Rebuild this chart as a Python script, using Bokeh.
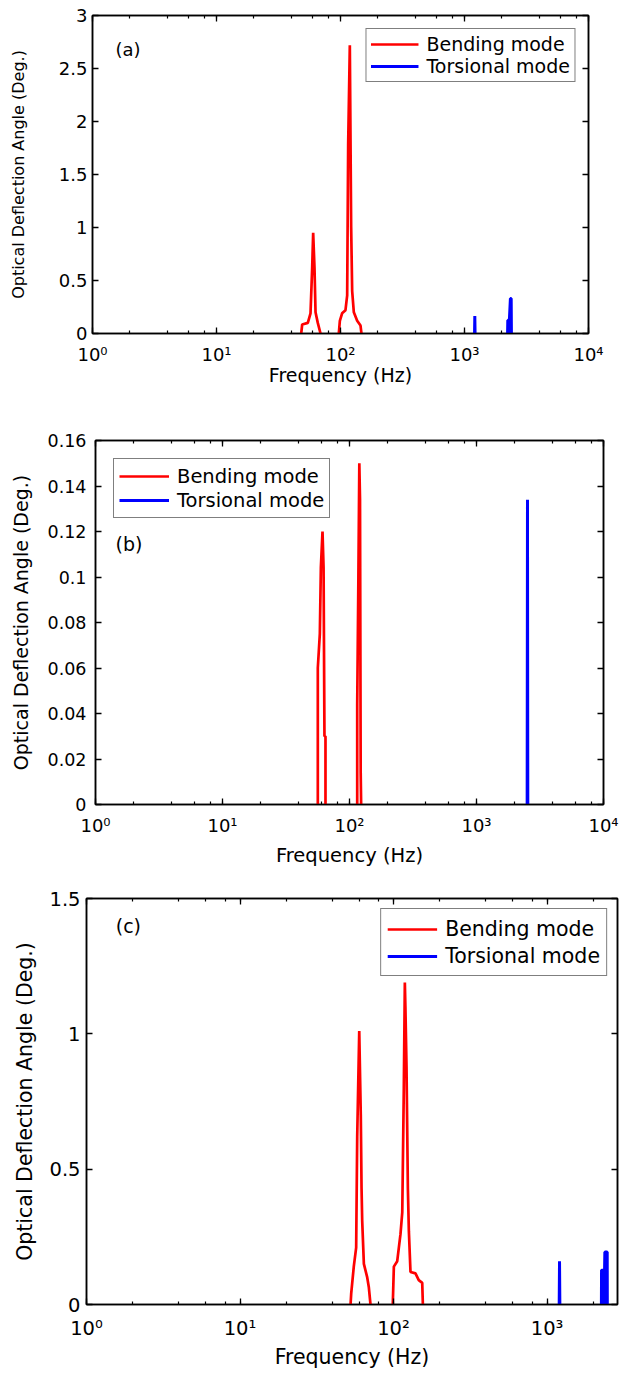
import math
from bokeh.plotting import figure
from bokeh.models import (LogAxis, LinearAxis, LogTicker, FixedTicker, CustomJSTickFormatter,
                          Legend, LegendItem, Label, Range1d)
from bokeh.embed import file_html
from bokeh.resources import INLINE

nan = float("nan")

# ---------------- data ----------------
series_names = ["Bending mode", "Torsional mode"]
panel_tags = ["(a)", "(b)", "(c)"]
x_label = "Frequency (Hz)"
y_label = "Optical Deflection Angle (Deg.)"

# Panel (a)
a_bend_freq = [48.2, 49.1, 54.5, 57.3, 59.1, 60.2, 61.7, 62.9, 65.6, 69.0, nan,
               96.9, 98.8, 103.0, 109.7, 113.2, 115.3, 118.9, 121.9, 124.2, 128.1, 136.3, 145.0, 147.6]
a_bend_val = [0, 0.085, 0.10, 0.19, 0.62, 0.95, 0.62, 0.20, 0.10, 0, nan,
              0, 0.12, 0.19, 0.22, 0.36, 1.79, 2.72, 1.00, 0.40, 0.20, 0.12, 0.075, 0]
a_tors_freq = [1205, 1211, 1217, nan, 2225, 2234, 2300, 2345, 2380, 2390]
a_tors_val = [0, 0.165, 0, nan, 0, 0.125, 0.125, 0.33, 0.33, 0]
a_yticks = [0, 0.5, 1, 1.5, 2, 2.5, 3]

# Panel (b)
b_bend_freq = [56.3, 56.3, 58.4, 59.5, 61.3, 62.5, 63.5, 64.7, 64.7, nan,
               115.0, 115.0, 117.5, 119.5, 121.0, 122.5, 123.5]
b_bend_val = [0, 0.06, 0.075, 0.104, 0.12, 0.104, 0.03, 0.03, 0, nan,
              0, 0.044, 0.10, 0.15, 0.134, 0.014, 0]
b_tors_freq = [2505, 2520, 2535]
b_tors_val = [0, 0.134, 0]
b_yticks = [0, 0.02, 0.04, 0.06, 0.08, 0.1, 0.12, 0.14, 0.16]

# Panel (c)
c_bend_freq = [52.5, 53.0, 55.1, 57.1, 58.0, 59.8, 61.2, 61.9, 62.5, 64.1, 67.4, 69.0, 70.8, nan,
               98.9, 100.5, 105.7, 111.0, 114.0, 116.7, 118.5, 119.5, 121.5, 124.0, 125.9, 129.0,
               139.0, 146.0, 153.8, 155.3]
c_bend_val = [0, 0.04, 0.14, 0.21, 0.62, 1.01, 0.70, 0.43, 0.31, 0.15, 0.10, 0.065, 0, nan,
              0, 0.14, 0.16, 0.26, 0.34, 0.80, 1.19, 1.10, 0.88, 0.43, 0.27, 0.12,
              0.115, 0.09, 0.08, 0]
c_tors_freq = [1200, 1206, 1212, nan, 2260, 2265, 2370, 2380, 2466, 2470]
c_tors_val = [0, 0.16, 0, nan, 0, 0.127, 0.127, 0.194, 0.194, 0]
c_yticks = [0, 0.5, 1, 1.5]

FONT = "DejaVu Sans"
RED = "#ff0000"
BLUE = "#0000ff"

SUP_JS = """
const sup = {'0':'\u2070','1':'\u00b9','2':'\u00b2','3':'\u00b3','4':'\u2074',
             '5':'\u2075','6':'\u2076','7':'\u2077','8':'\u2078','9':'\u2079','-':'\u207b'};
const e = Math.round(Math.log10(tick));
return '10' + String(e).split('').map(c => sup[c]).join('');
"""
DEC_JS = "return String(parseFloat(tick.toFixed(6)));"


def segments(xs, ys):
    out, cx, cy = [], [], []
    for x, y in zip(xs, ys):
        if isinstance(x, float) and math.isnan(x):
            if cx:
                out.append((cx, cy))
            cx, cy = [], []
        else:
            cx.append(x)
            cy.append(y)
    if cx:
        out.append((cx, cy))
    return out


def make_panel(cfg):
    p = figure(width=cfg["w"], height=cfg["h"], x_axis_type="log",
               x_range=Range1d(1, cfg["xmax"]), y_range=Range1d(0, cfg["ymax"]),
               output_backend="svg", toolbar_location=None,
               min_border_left=cfg["bl"], min_border_right=cfg["br"],
               min_border_top=cfg["bt"], min_border_bottom=cfg["bb"],
               background_fill_color="white", border_fill_color="white")
    p.xgrid.visible = False
    p.ygrid.visible = False
    p.outline_line_color = "black"
    p.outline_line_width = 1.5

    # data
    for fx, fy in segments(cfg["tf"], cfg["tv"]):
        p.varea(x=fx, y1=[0] * len(fy), y2=fy, fill_color=BLUE)
    r_b = p.line(cfg["bf"], cfg["bv"], line_color=RED, line_width=2.7)
    r_t = p.line(cfg["tf"], cfg["tv"], line_color=BLUE, line_width=3)

    # bottom axis
    xa = p.xaxis[0]
    xa.ticker = LogTicker()
    xa.formatter = CustomJSTickFormatter(code=SUP_JS)
    # left axis
    ya = p.yaxis[0]
    ya.ticker = FixedTicker(ticks=cfg["yticks"])
    ya.formatter = CustomJSTickFormatter(code=DEC_JS)

    for ax in (xa, ya):
        ax.axis_line_color = "black"
        ax.axis_line_width = 1.5
        ax.major_tick_in = 6
        ax.major_tick_out = 0
        ax.major_tick_line_width = 1.3
        ax.minor_tick_in = 3
        ax.minor_tick_out = 0
        ax.minor_tick_line_width = 1.2
        ax.major_label_text_font = FONT
        ax.major_label_text_color = "black"
        ax.axis_label_text_font = FONT
        ax.axis_label_text_font_style = "normal"
        ax.axis_label_text_color = "black"
    ya.minor_tick_line_color = None
    xa.major_label_text_font_size = f"{cfg['tick_fs']}px"
    ya.major_label_text_font_size = f"{cfg['ytick_fs']}px"
    xa.axis_label = x_label
    ya.axis_label = y_label
    xa.axis_label_text_font_size = f"{cfg['xlab_fs']}px"
    ya.axis_label_text_font_size = f"{cfg['ylab_fs']}px"
    xa.major_label_standoff = cfg["xs1"]
    xa.axis_label_standoff = cfg["xs2"]
    ya.major_label_standoff = cfg["ys1"]
    ya.axis_label_standoff = cfg["ys2"]

    # mirrored axes (top, right), ticks only
    top = LogAxis(ticker=LogTicker(), major_label_text_font_size="1px",
                  major_label_text_alpha=0,
                  major_label_standoff=0, major_tick_in=6, major_tick_out=0,
                  minor_tick_in=3, minor_tick_out=0, axis_line_color="black",
                  axis_line_width=1.5, major_tick_line_width=1.3, minor_tick_line_width=1.2)
    right = LinearAxis(ticker=FixedTicker(ticks=cfg["yticks"]), major_label_text_font_size="1px",
                       major_label_text_alpha=0,
                       major_label_standoff=0, major_tick_in=6, major_tick_out=0,
                       minor_tick_line_color=None, axis_line_color="black",
                       axis_line_width=1.5, major_tick_line_width=1.3)
    p.add_layout(top, "above")
    p.add_layout(right, "right")

    legend = Legend(items=[LegendItem(label=series_names[0], renderers=[r_b]),
                           LegendItem(label=series_names[1], renderers=[r_t])],
                    location=cfg["leg_loc"], margin=cfg["leg_margin"],
                    label_text_font=FONT, label_text_font_size=f"{cfg['leg_fs']}px",
                    label_text_color="black",
                    glyph_width=cfg["glyph_w"], glyph_height=20,
                    label_height=cfg["row_h"], label_standoff=cfg["leg_so"],
                    padding=cfg["leg_pad"], spacing=0,
                    border_line_color="black", border_line_width=1,
                    background_fill_color="white", background_fill_alpha=1)
    p.add_layout(legend)

    p.add_layout(Label(x=cfg["tag_x"], y=cfg["tag_y"], text=cfg["tag"],
                       text_font=FONT, text_font_size=f"{cfg['tag_fs']}px",
                       text_align="left", text_baseline="middle", text_color="black"))
    return p


cfg_a = dict(w=619, h=430, bl=92, br=31, bt=15, bb=97, xmax=1e4, ymax=3,
             bf=a_bend_freq, bv=a_bend_val, tf=a_tors_freq, tv=a_tors_val, yticks=a_yticks,
             tick_fs=18, ytick_fs=18, xlab_fs=19, ylab_fs=16, xs1=10, xs2=-4, ys1=5, ys2=28,
             leg_loc="top_right", leg_margin=13, leg_fs=19, glyph_w=48, row_h=22, leg_so=8,
             leg_pad=4, tag=panel_tags[0], tag_x=1.53, tag_y=2.68, tag_fs=18)
cfg_b = dict(w=619, h=458, bl=95, br=16, bt=10, bb=84, xmax=1e4, ymax=0.16,
             bf=b_bend_freq, bv=b_bend_val, tf=b_tors_freq, tv=b_tors_val, yticks=b_yticks,
             tick_fs=18, ytick_fs=17.5, xlab_fs=19.5, ylab_fs=19, xs1=10, xs2=5, ys1=9, ys2=13,
             leg_loc="top_left", leg_margin=18, leg_fs=19.5, glyph_w=50, row_h=24, leg_so=8,
             leg_pad=5, tag=panel_tags[1], tag_x=1.44, tag_y=0.1147, tag_fs=19)
cfg_c = dict(w=619, h=485, bl=86, br=2, bt=10, bb=69, xmax=10 ** 3.459, ymax=1.5,
             bf=c_bend_freq, bv=c_bend_val, tf=c_tors_freq, tv=c_tors_val, yticks=c_yticks,
             tick_fs=19.5, ytick_fs=19.5, xlab_fs=20.5, ylab_fs=20.5, xs1=12, xs2=2, ys1=6, ys2=9,
             leg_loc="top_right", leg_margin=10, leg_fs=20.5, glyph_w=50, row_h=27, leg_so=8,
             leg_pad=6, tag=panel_tags[2], tag_x=1.55, tag_y=1.40, tag_fs=19)

pa = make_panel(cfg_a)
pb = make_panel(cfg_b)
pc = make_panel(cfg_c)

# separate roots so that each panel keeps its own frame position (no frame alignment)
open("out.html", "w").write(file_html([pa, pb, pc], INLINE))
